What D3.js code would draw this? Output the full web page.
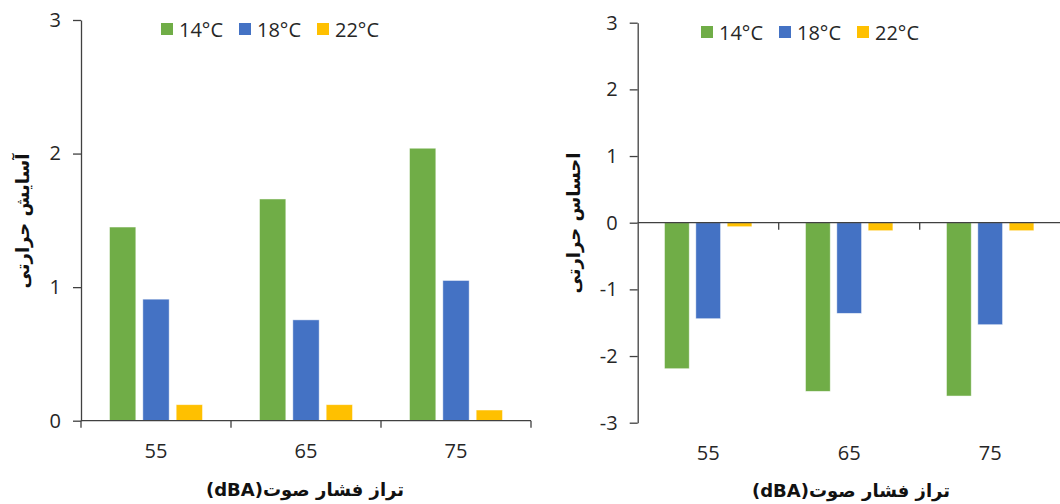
<!DOCTYPE html>
<html>
<head>
<meta charset="utf-8">
<script src="https://cdn.jsdelivr.net/npm/d3@7"></script>
<style>
  html, body { margin: 0; padding: 0; background: #fff; }
  svg { display: block; }
</style>
</head>
<body>
<svg id="chart" width="1060" height="504"></svg>
<script>
// ---- data ----
const categories = ["55", "65", "75"];
const seriesNames = ["14°C", "18°C", "22°C"];
const seriesColors = ["#70AD47", "#4472C4", "#FFC000"];

// Left chart: thermal comfort
const comfort14 = [1.45, 1.66, 2.04];
const comfort18 = [0.91, 0.755, 1.05];
const comfort22 = [0.12, 0.12, 0.08];
const comfortTicks = [0, 1, 2, 3];

// Right chart: thermal sensation
const sensation14 = [-2.19, -2.53, -2.60];
const sensation18 = [-1.44, -1.36, -1.53];
const sensation22 = [-0.06, -0.12, -0.12];
const sensationTicks = [-3, -2, -1, 0, 1, 2, 3];

const xTitle = "تراز فشار صوت(dBA)";
const comfortTitle = "آسایش حرارتی";
const sensationTitle = "احساس حرارتی";

// ---- drawing ----
const svg = d3.select("#chart");
const axisColor = "#404040";
const textColor = "#262626";
const latinFont = "'Open Sans', 'Noto Sans', sans-serif";
const arabicFont = "'DejaVu Sans', sans-serif";
const labelSize = "20px";
const titleSize = "18px";

function drawPanel(cfg) {
  const g = svg.append("g");
  const x0 = d3.scaleBand().domain(categories).range(cfg.xRange).paddingInner(0).paddingOuter(0);
  const x1 = d3.scaleBand().domain(seriesNames).range([0, x0.bandwidth()])
    .paddingInner(0.21).paddingOuter(0.855);
  const y = d3.scaleLinear().domain(cfg.yDomain).range(cfg.yRange);

  const rows = [];
  categories.forEach((c, i) => {
    seriesNames.forEach((s, j) => rows.push({ cat: c, s: s, color: seriesColors[j], v: cfg.values[j][i] }));
  });

  // bars
  g.selectAll("rect.bar").data(rows).enter().append("rect")
    .attr("class", "bar")
    .attr("x", d => x0(d.cat) + x1(d.s))
    .attr("width", x1.bandwidth())
    .attr("y", d => y(Math.max(0, d.v)))
    .attr("height", d => Math.abs(y(d.v) - y(0)))
    .attr("fill", d => d.color)
    .attr("stroke", "#ffffff")
    .attr("stroke-opacity", 0.6)
    .attr("stroke-width", 0.8);

  // y axis
  const yAxis = d3.axisLeft(y).tickValues(cfg.ticks).tickFormat(d => String(d))
    .tickSizeInner(8).tickSizeOuter(0).tickPadding(cfg.tickPad);
  const ya = g.append("g").attr("transform", `translate(${cfg.xRange[0]},0)`).call(yAxis);
  ya.select(".domain").attr("stroke", axisColor).attr("stroke-width", 1.3);
  ya.selectAll(".tick line").attr("stroke", axisColor).attr("stroke-width", 1.3);
  ya.selectAll(".tick text").attr("fill", textColor).style("font-size", labelSize).style("font-family", latinFont);

  // x axis line at zero with tick marks at category boundaries
  const y0 = y(0);
  const xa = g.append("g");
  xa.append("line").attr("x1", cfg.xRange[0]).attr("x2", cfg.xRange[1])
    .attr("y1", y0).attr("y2", y0).attr("stroke", axisColor).attr("stroke-width", 1.3);
  const bounds = categories.map(c => x0(c)).concat([cfg.xRange[1]]).filter((b, i) => cfg.startTick || i > 0);
  xa.selectAll("line.xt").data(bounds).enter().append("line").attr("class", "xt")
    .attr("x1", d => d).attr("x2", d => d).attr("y1", y0).attr("y2", y0 + 7)
    .attr("stroke", axisColor).attr("stroke-width", 1.3);

  // category labels
  g.selectAll("text.cat").data(categories).enter().append("text").attr("class", "cat")
    .attr("x", d => x0(d) + x0.bandwidth() / 2)
    .attr("y", cfg.catLabelY)
    .attr("text-anchor", "middle").attr("dominant-baseline", "central")
    .attr("fill", textColor).style("font-family", latinFont).style("font-size", labelSize)
    .text(d => d);

  // x title
  g.append("text")
    .attr("x", cfg.xTitlePos[0]).attr("y", cfg.xTitlePos[1])
    .attr("direction", "rtl").attr("text-anchor", "middle").attr("dominant-baseline", "central")
    .style("font-family", arabicFont).style("font-weight", "bold").style("font-size", titleSize)
    .attr("fill", "#111")
    .text(xTitle);

  // y title
  g.append("text")
    .attr("transform", `translate(${cfg.yTitlePos[0]},${cfg.yTitlePos[1]}) rotate(-90)`)
    .attr("direction", "rtl").attr("text-anchor", "middle").attr("dominant-baseline", "central")
    .style("font-family", arabicFont).style("font-weight", "bold").style("font-size", titleSize)
    .attr("fill", "#111")
    .text(cfg.yTitle);

  // legend
  const lg = g.append("g").attr("transform", `translate(${cfg.legendPos[0]},${cfg.legendPos[1]})`);
  const items = lg.selectAll("g").data(seriesNames).enter().append("g")
    .attr("transform", (d, i) => `translate(${i * 78},0)`);
  items.append("rect").attr("x", 0).attr("y", -6).attr("width", 12).attr("height", 12)
    .attr("fill", (d, i) => seriesColors[i]);
  items.append("text").attr("x", 18).attr("y", 0).attr("dominant-baseline", "central")
    .attr("fill", textColor).style("font-family", latinFont).style("font-size", labelSize)
    .text(d => d);
}

drawPanel({
  xRange: [81, 531], yDomain: [0, 3], yRange: [420.7, 20],
  ticks: comfortTicks, values: [comfort14, comfort18, comfort22],
  tickPad: 12, startTick: true, catLabelY: 450,
  xTitlePos: [305, 489], yTitlePos: [22, 221], yTitle: comfortTitle,
  legendPos: [161, 29]
});

drawPanel({
  xRange: [637.7, 1060.7], yDomain: [-3, 3], yRange: [422.7, 22.7],
  ticks: sensationTicks, values: [sensation14, sensation18, sensation22],
  tickPad: 12, startTick: false, catLabelY: 452,
  xTitlePos: [851, 490], yTitlePos: [573, 223], yTitle: sensationTitle,
  legendPos: [701, 32]
});
</script>
</body>
</html>
